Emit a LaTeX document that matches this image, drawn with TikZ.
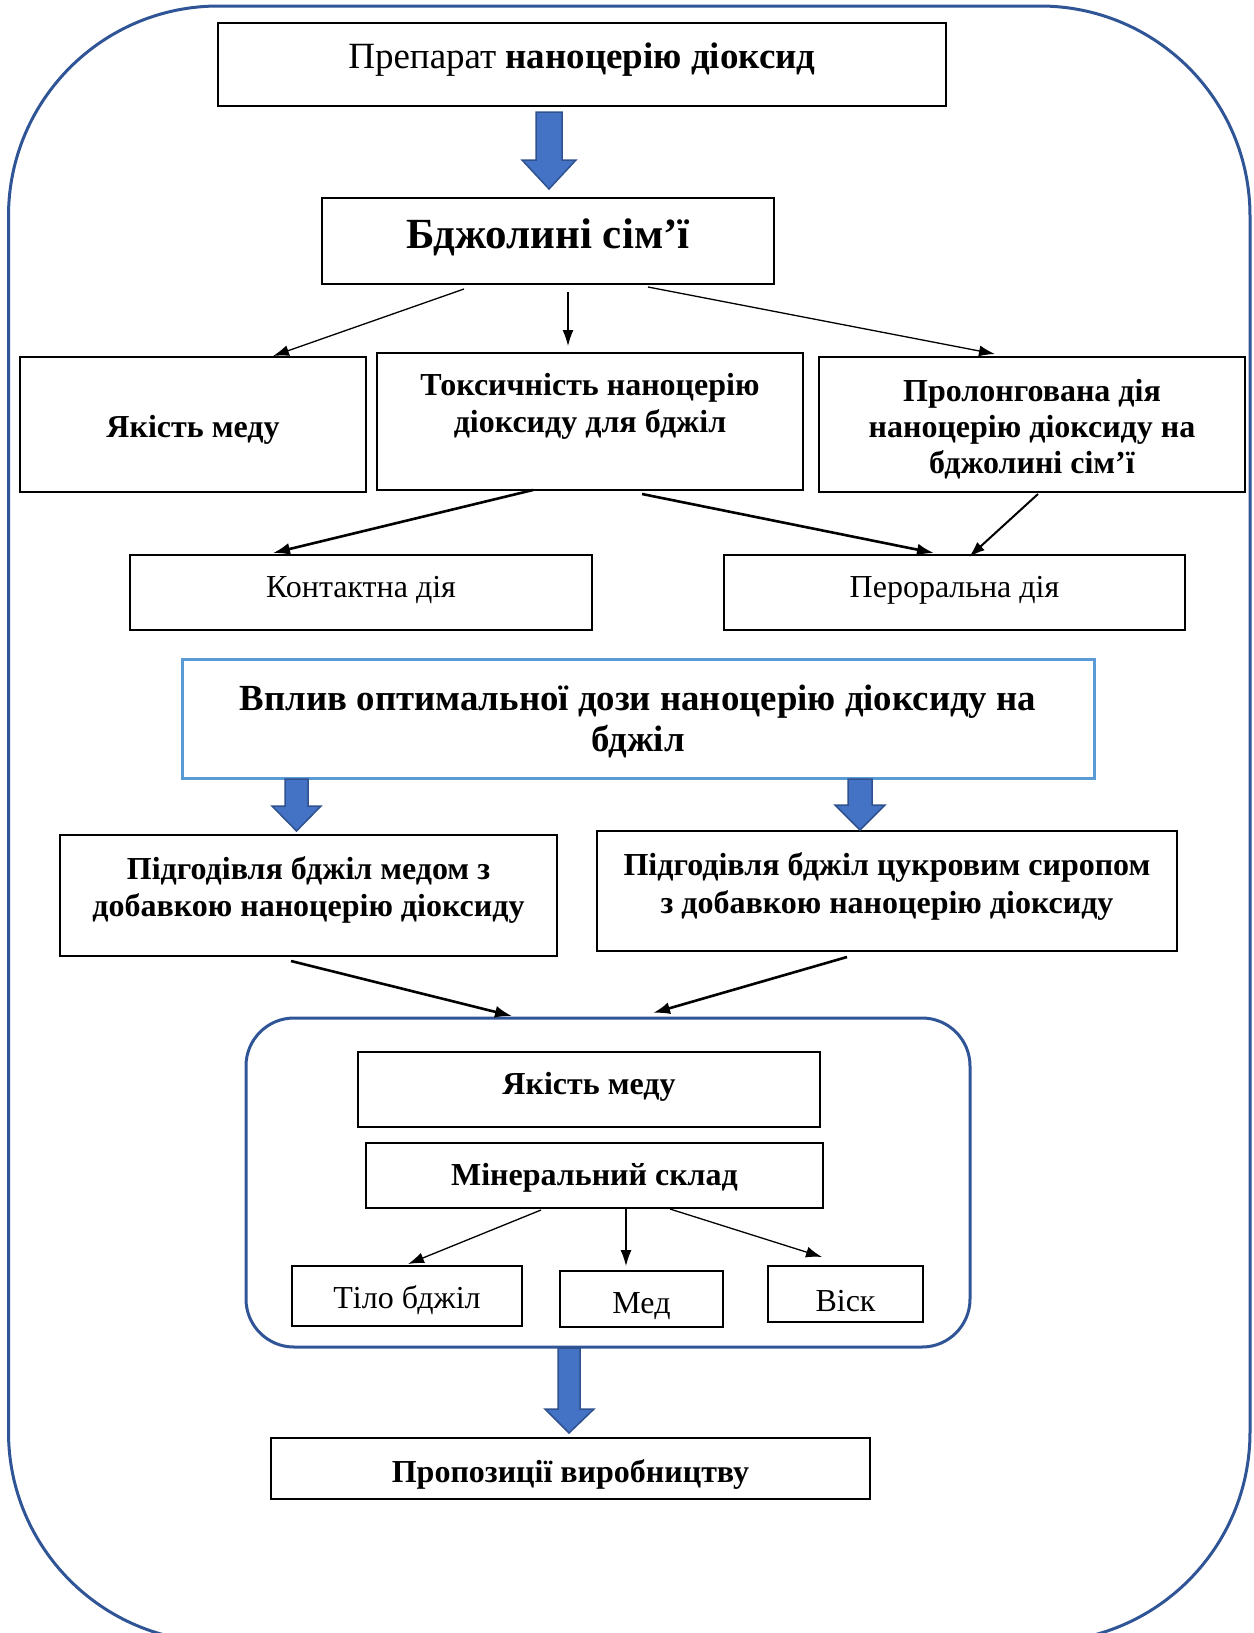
\documentclass[tikz,border=0pt]{standalone}
\usepackage{fontspec}
\setmainfont{Liberation Serif}
\usetikzlibrary{arrows.meta}
\definecolor{frameblue}{HTML}{2F5597}
\definecolor{lightblue}{HTML}{5B9BD5}
\definecolor{arrowfill}{HTML}{4472C4}
\definecolor{arrowline}{HTML}{2F528F}
\begin{document}
\begin{tikzpicture}[x=1pt,y=-1pt,
  box/.style={draw=black,line width=1.3pt,rectangle,inner sep=0pt},
  txt/.style={align=center,inner sep=0pt,yshift=-5pt,font=\fontsize{32}{37}\selectfont},
  arr/.style={-{Latex[length=16pt,width=11pt]},line width=1.3pt},
  arrthick/.style={-{Latex[length=17pt,width=12pt]},line width=2.6pt},
  bigarrow/.style={fill=arrowfill,draw=arrowline,line width=1.5pt,line join=miter}
]
\useasboundingbox (0,0) rectangle (1253,1633);
% outer frame
\draw[frameblue,line width=3pt,rounded corners=210pt] (8.5,6) rectangle (1250,1642);
% boxes
\node[box,minimum width=728pt,minimum height=83pt] (b1) at (582,64.5) {};
\node[txt,font=\fontsize{37}{42}\selectfont] (t1) at (582,55) {Препарат \textbf{наноцерію діоксид}};
\node[box,minimum width=452pt,minimum height=86pt] (b2) at (548,241) {};
\node[txt,font=\fontsize{43}{48}\selectfont\bfseries] (t2) at (548,232) {Бджолині сім’ї};
\node[box,minimum width=346pt,minimum height=135pt] (b3) at (193,424.5) {};
\node[txt,font=\fontsize{32}{37}\selectfont\bfseries] (t3) at (193,425) {Якість меду};
\node[box,minimum width=426pt,minimum height=137pt] (b4) at (590,421.5) {};
\node[txt,font=\fontsize{32}{37}\selectfont\bfseries] (t4) at (590,401) {Токсичність наноцерію\\діоксиду для бджіл};
\node[box,minimum width=426pt,minimum height=135pt] (b5) at (1032,424.5) {};
\node[txt,font=\fontsize{32}{36}\selectfont\bfseries] (t5) at (1032,424) {Пролонгована дія\\наноцерію діоксиду на\\бджолині сім’ї};
\node[box,minimum width=462pt,minimum height=75pt] (b6) at (361,592.5) {};
\node[txt] (t6) at (361,585) {Контактна дія};
\node[box,minimum width=461pt,minimum height=75pt] (b7) at (954.5,592.5) {};
\node[txt] (t7) at (954.5,585) {Пероральна дія};
\node[draw=lightblue,line width=3pt,rectangle,minimum width=912pt,minimum height=119pt] (b8) at (638,718.5) {};
\node[txt,font=\fontsize{36.8}{41}\selectfont\bfseries] (t8) at (638,716) {Вплив оптимальної дози наноцерію діоксиду на\\бджіл};
\node[box,minimum width=497pt,minimum height=121pt] (b9) at (308.5,895.5) {};
\node[txt,font=\fontsize{32}{37}\selectfont\bfseries] (t9) at (308.5,885) {Підгодівля бджіл медом з\\добавкою наноцерію діоксиду};
\node[box,minimum width=580pt,minimum height=120pt] (b10) at (887,891) {};
\node[txt,font=\fontsize{32}{38}\selectfont\bfseries] (t10) at (887,881) {Підгодівля бджіл цукровим сиропом\\з добавкою наноцерію діоксиду};
% inner frame
\node[draw=frameblue,line width=3pt,rectangle,rounded corners=48pt,minimum width=724pt,minimum height=329pt] (inner) at (608,1182.5) {};
\node[box,minimum width=462pt,minimum height=75pt] (b11) at (589,1089.5) {};
\node[txt,font=\fontsize{32}{37}\selectfont\bfseries] (t11) at (589,1082) {Якість меду};
\node[box,minimum width=457pt,minimum height=65pt] (b12) at (594.5,1175.5) {};
\node[txt,font=\fontsize{32}{37}\selectfont\bfseries] (t12) at (594.5,1173) {Мінеральний склад};
\node[box,minimum width=230pt,minimum height=60pt] (b13) at (407,1296) {};
\node[txt] (t13) at (407,1295) {Тіло бджіл};
\node[box,minimum width=163pt,minimum height=56pt] (b14) at (641.5,1299) {};
\node[txt] (t14) at (641.5,1301) {Мед};
\node[box,minimum width=155pt,minimum height=56pt] (b15) at (845.5,1294) {};
\node[txt] (t15) at (845.5,1296) {Віск};
\node[box,minimum width=599pt,minimum height=61pt] (b16) at (570.5,1468.5) {};
\node[txt,font=\fontsize{32}{37}\selectfont\bfseries] (t16) at (570.5,1469) {Пропозиції виробництву};
% big blue arrows
\draw[bigarrow] (536,112) -- (562,112) -- (562,160) -- (576,160) -- (549,189) -- (522,160) -- (536,160) -- cycle;
\draw[bigarrow] (285,779) -- (308,779) -- (308,806) -- (321,806) -- (296.5,831) -- (272,806) -- (285,806) -- cycle;
\draw[bigarrow] (848,779) -- (872,779) -- (872,805) -- (885,805) -- (860,830) -- (835,805) -- (848,805) -- cycle;
\draw[bigarrow] (558,1348) -- (580,1348) -- (580,1409) -- (594,1409) -- (569,1433) -- (545,1409) -- (558,1409) -- cycle;
% connector coordinates
\coordinate (a1s) at (464,289); \coordinate (a1e) at (273,356);
\coordinate (a2s) at (568,292); \coordinate (a2e) at (568,346);
\coordinate (a3s) at (648,287); \coordinate (a3e) at (995,354);
\coordinate (a4s) at (533,490); \coordinate (a4e) at (273,553);
\coordinate (a5s) at (642,494); \coordinate (a5e) at (934,553);
\coordinate (a6s) at (1038,494); \coordinate (a6e) at (969,557);
\coordinate (a7s) at (291,961); \coordinate (a7e) at (512,1016);
\coordinate (a8s) at (847,957); \coordinate (a8e) at (653,1013);
\coordinate (a9s) at (541,1210); \coordinate (a9e) at (408,1264);
\coordinate (a10s) at (626,1209); \coordinate (a10e) at (626,1266);
\coordinate (a11s) at (670,1209); \coordinate (a11e) at (822,1257);
\draw[arr] (a1s) -- (a1e);
\draw[arr] (a2s) -- (a2e);
\draw[arr] (a3s) -- (a3e);
\draw[arrthick] (a4s) -- (a4e);
\draw[arrthick] (a5s) -- (a5e);
\draw[arr,line width=2pt] (a6s) -- (a6e);
\draw[arrthick] (a7s) -- (a7e);
\draw[arrthick] (a8s) -- (a8e);
\draw[arr] (a9s) -- (a9e);
\draw[arr] (a10s) -- (a10e);
\draw[arr] (a11s) -- (a11e);
\end{tikzpicture}
\end{document}
